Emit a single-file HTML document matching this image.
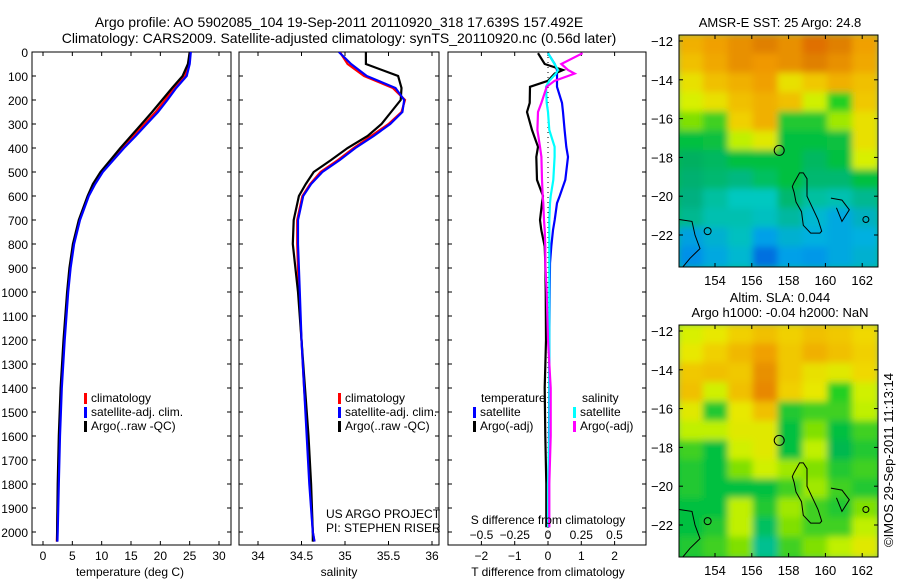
<!DOCTYPE html>
<html><head><meta charset="utf-8"><style>
body{margin:0;background:#fff;}
svg text{font-family:"Liberation Sans",sans-serif;font-size:12px;fill:#000;}
</style></head><body>
<svg id="fig" width="900" height="580" viewBox="0 0 900 580" xmlns="http://www.w3.org/2000/svg">
<defs>
<filter id="blur" x="-5%" y="-5%" width="110%" height="110%"><feGaussianBlur stdDeviation="3.5"/></filter>
<clipPath id="c1"><rect x="679" y="35" width="199" height="232"/></clipPath>
<clipPath id="c2"><rect x="679" y="325" width="199" height="232"/></clipPath>
<clipPath id="p1"><rect x="32" y="52" width="199" height="493"/></clipPath>
<clipPath id="p2"><rect x="239" y="52" width="200" height="493"/></clipPath>
<clipPath id="p3"><rect x="448" y="52" width="198" height="493"/></clipPath>
</defs>
<text x="339" y="27" text-anchor="middle" style="font-size:14px">Argo profile: AO 5902085_104 19-Sep-2011 20110920_318 17.639S 157.492E</text>
<text x="339" y="43" text-anchor="middle" style="font-size:14px">Climatology: CARS2009. Satellite-adjusted climatology: synTS_20110920.nc (0.56d later)</text>
<g id="g1"></g>
<g id="g2"></g>
<g id="g3"></g>
<g id="m1"></g>
<g id="m2"></g>
<text transform="translate(893,460) rotate(-90)" text-anchor="middle" style="font-size:13px">©IMOS 29-Sep-2011 11:13:14</text>
</svg>
<script>
const depth=[0,50,100,150,200,250,300,350,400,450,500,550,600,700,800,900,1000,1200,1400,1600,1800,2000,2040];
const tempClim=[25.0,24.8,24.2,22.3,20.8,19.2,17.3,15.4,13.4,11.7,10.0,8.7,7.7,6.2,5.2,4.6,4.2,3.6,3.1,2.8,2.6,2.4,2.35];
const tempSat=[25.2,25.0,24.5,22.7,21.2,19.6,17.7,15.8,13.8,12.0,10.2,8.9,7.8,6.3,5.3,4.7,4.3,3.7,3.2,2.9,2.7,2.5,2.45];
const tempArgo=[25.0,24.7,23.8,22.0,20.3,18.6,16.8,15.0,13.2,11.5,9.8,8.5,7.6,6.1,5.1,4.5,4.1,3.5,3.0,2.7,2.5,2.4,2.4];
const salClim=[34.94,35.03,35.22,35.55,35.69,35.65,35.5,35.3,35.1,34.92,34.72,34.6,34.51,34.45,34.45,34.46,34.47,34.5,34.53,34.57,34.6,34.63,34.65];
const salSat=[34.93,35.07,35.25,35.58,35.68,35.66,35.52,35.33,35.12,34.94,34.74,34.61,34.52,34.46,34.46,34.47,34.48,34.5,34.53,34.56,34.59,34.63,34.65];
const salArgo=[35.24,35.24,35.61,35.65,35.64,35.53,35.42,35.26,35.03,34.84,34.64,34.55,34.47,34.41,34.4,34.43,34.46,34.5,34.54,34.58,34.61,34.63,34.63];
const diffDepth=[5,50,75,90,120,145,212,250,325,395,437,533,600,630,700,742,810,880,1000,1200,1400,1600,1800,1980];
const dTSat=[0,0.2,0.27,0.27,0.27,0.27,0.42,0.45,0.5,0.55,0.6,0.52,0.35,0.27,0.2,0.15,0.1,0.06,0.05,0.04,0.04,0.03,0.03,0.03];
const dTArgo=[-0.3,-0.1,0.45,0.2,0,-0.54,-0.55,-0.63,-0.48,-0.3,-0.35,-0.33,-0.15,-0.18,-0.24,-0.2,-0.1,-0.08,-0.07,-0.06,-0.1,-0.08,-0.05,-0.05];
const dSSat=[0,0.05,0.075,0.06,0.01,-0.015,-0.01,0,0.01,0.05,0.05,0.04,0.02,0.015,0.01,0.01,0.01,0.01,0.01,0.01,0.01,0.01,0.0,0.0];
const dSArgo=[0.26,0.1,0.15,0.2,0.05,-0.01,-0.05,-0.075,-0.08,-0.06,-0.05,-0.045,-0.04,-0.035,-0.03,-0.025,-0.02,-0.02,-0.01,0,0.02,0.02,0.01,0.01];
const depthTicks=[0,100,200,300,400,500,600,700,800,900,1000,1100,1200,1300,1400,1500,1600,1700,1800,1900,2000];
const tempTicks=[0,5,10,15,20,25,30];
const salTicks=[34,34.5,35,35.5,36];
const tdTicks=[-2,-1,0,1,2];
const sdTicks=[-0.5,-0.25,0,0.25,0.5];
const latTicks=[-12,-14,-16,-18,-20,-22];
const lonTicks=[154,156,158,160,162];
const sstGrid=[
["#f0b000","#f0a000","#e89000","#e08000","#e89000","#e07000","#e08000","#f0a000"],
["#f0c000","#f0a800","#e89000","#f09800","#e89000","#e08000","#e89000","#f0a800"],
["#e8e000","#f0c000","#f0b000","#f0a000","#e8e000","#f0c800","#f0b000","#f0c000"],
["#d8f000","#e8e000","#f0c000","#f0b000","#f0c000","#d0f000","#20d020","#f0c800"],
["#80e000","#40d020","#f0d000","#f0b000","#20c830","#20c830","#a0e800","#e8e000"],
["#00c040","#10c040","#c0f000","#e0e800","#00c040","#00c040","#10c040","#e8e000"],
["#00b060","#00b860","#00c040","#00c040","#00c040","#00b860","#00c040","#d8f000"],
["#00b070","#00b870","#00b880","#00c060","#00c040","#00b870","#00b870","#00c040"],
["#00b080","#00c0a0","#00c8c0","#00c8c0","#00b870","#00c0a0","#00c0b0","#00b890"],
["#00b890","#00c0b0","#00c0b0","#00c0c0","#00b8a0","#00b8d0","#00a8e0","#00b0c0"],
["#00a0e0","#00b0d0","#00c0c0","#00a0e8","#00b0d0","#00b0e0","#00a8e0","#00b0e0"],
["#0090e8","#00a8e0","#00b8d0","#0070e0","#00a0e8","#0098e8","#00a8e0","#00b0d0"]];
const slaGrid=[
["#d8f000","#e8e800","#f0d000","#f0c000","#f0d000","#f0c000","#f0c800","#f0d800"],
["#e8e800","#f0d000","#f0b800","#f0a000","#f0c800","#f0b000","#f0c000","#f0d000"],
["#f0c800","#f0c000","#f0c800","#e89000","#f0c800","#e8e000","#e0e800","#f0d800"],
["#f0c000","#d0f000","#f0c000","#e88800","#f0d000","#e8e800","#20d020","#d0f000"],
["#e0e800","#20c830","#e8e800","#f0c000","#20c830","#40d020","#40d020","#c0f000"],
["#c0f000","#c0f000","#e0e800","#e0e800","#00c040","#80e000","#00c040","#40d020"],
["#40d020","#00c040","#d0f000","#e0e800","#00c040","#c0f000","#00b850","#20c830"],
["#20c830","#00c040","#80e000","#d0f000","#a0e800","#80e000","#20c830","#40d020"],
["#20c830","#00c040","#00c040","#00c040","#40d020","#a0e800","#40d020","#20c830"],
["#00c040","#00c040","#c0f000","#20c830","#a0e800","#40d020","#20c830","#80e000"],
["#00c040","#20c830","#c0f000","#00c060","#80e000","#40d020","#40d020","#c0f000"],
["#20c830","#40d020","#80e000","#00c090","#40d020","#80e000","#c0f000","#e0e800"]];
const islandLon=[158.3,158.6,158.8,159.0,159.0,159.3,159.6,159.8,159.7,159.2,158.8,158.7,158.4,158.3,158.2,158.3];
const islandLat=[-19.3,-18.8,-18.8,-19.1,-20.0,-20.6,-21.2,-21.8,-21.9,-21.9,-21.5,-20.8,-20.3,-19.8,-19.5,-19.3];

const NS="http://www.w3.org/2000/svg";
function mk(tag,attrs,parent){const e=document.createElementNS(NS,tag);for(const k in attrs)e.setAttribute(k,attrs[k]);parent.appendChild(e);return e;}
const yD=d=>52+d*0.24;

function frame(g,x0,x1){
  const r=mk('rect',{x:x0,y:52,width:x1-x0,height:493,fill:'none',stroke:'#000','stroke-width':1},g);
  
  
  depthTicks.forEach(d=>{
    mk('line',{x1:x0,x2:x0+4,y1:yD(d),y2:yD(d),stroke:'#000'},g);
    mk('line',{x1:x1-4,x2:x1,y1:yD(d),y2:yD(d),stroke:'#000'},g);
  });
}
function series(g,xs,ys,sx,color,clip,name){
  const pts=xs.map((v,i)=>sx(v).toFixed(1)+','+yD(ys[i]).toFixed(1)).join(' ');
  const p=mk('polyline',{points:pts,fill:'none',stroke:color,'stroke-width':2.2,'clip-path':'url(#'+clip+')'},g);
  
  
}
function xticks(g,ticks,sx,y,lbl,top){
  ticks.forEach(t=>{
    mk('line',{x1:sx(t),x2:sx(t),y1:545,y2:541,stroke:'#000'},g);
    if(top) mk('line',{x1:sx(t),x2:sx(t),y1:52,y2:56,stroke:'#000'},g);
    const tx=mk('text',{x:sx(t),y:y,'text-anchor':'middle'},g);tx.textContent=(t<0?'\u2212'+(-t):t);
    
    
  });
}
function legend(g,x,y,items){
  items.forEach((it,i)=>{
    mk('rect',{x:x,y:y+i*14-9,width:3,height:11,fill:it[1]},g);
    const t=mk('text',{x:x+7,y:y+i*14},g);t.textContent=it[0];
    
    
  });
}
// Panel 1
const g1=document.getElementById('g1');
const sT=v=>43+v*5.867;
frame(g1,32,231);
depthTicks.forEach(d=>{const t=mk('text',{x:28,y:yD(d)+5,'text-anchor':'end'},g1);t.textContent=d;
  
  });
xticks(g1,tempTicks,sT,560,true,true);
series(g1,tempClim,depth,sT,'#ff0000','p1','temp-climatology-line');
series(g1,tempArgo,depth,sT,'#000000','p1','temp-argo-line');
series(g1,tempSat,depth,sT,'#0000ff','p1','temp-satellite-line');
legend(g1,84,402,[['climatology','#f00'],['satellite-adj. clim.','#00f'],['Argo(..raw -QC)','#000']]);
let t=mk('text',{x:130,y:576,'text-anchor':'middle'},g1);t.textContent='temperature (deg C)';


// Panel 2
const g2=document.getElementById('g2');
const sS=v=>258+(v-34)*87;
frame(g2,239,439);
xticks(g2,salTicks,sS,560,true,true);
series(g2,salClim,depth,sS,'#ff0000','p2','sal-climatology-line');
series(g2,salArgo,depth,sS,'#000000','p2','sal-argo-line');
series(g2,salSat,depth,sS,'#0000ff','p2','sal-satellite-line');
legend(g2,338,402,[['climatology','#f00'],['satellite-adj. clim.','#00f'],['Argo(..raw -QC)','#000']]);
t=mk('text',{x:326,y:518},g2);t.textContent='US ARGO PROJECT';


t=mk('text',{x:326,y:532},g2);t.textContent='PI: STEPHEN RISER';


t=mk('text',{x:339,y:576,'text-anchor':'middle'},g2);t.textContent='salinity';


// Panel 3
const g3=document.getElementById('g3');
const sDT=v=>548+v*33.3;
const sDS=v=>548+v*133;
frame(g3,448,646);
mk('line',{x1:548,x2:548,y1:52,y2:545,stroke:'#000','stroke-dasharray':'1,4'},g3);
xticks(g3,tdTicks,sDT,560,true,true);
sdTicks.forEach(v=>{const tx=mk('text',{x:sDS(v),y:539,'text-anchor':'middle'},g3);tx.textContent=(v<0?'\u2212'+(-v):v);
  
  });
series(g3,dTSat,diffDepth,sDT,'#0000ff','p3','dT-satellite-line');
series(g3,dTArgo,diffDepth,sDT,'#000000','p3','dT-argo-line');
series(g3,dSSat,diffDepth,sDS,'#00ffff','p3','dS-satellite-line');
series(g3,dSArgo,diffDepth,sDS,'#ff00ff','p3','dS-argo-line');
t=mk('text',{x:481,y:402},g3);t.textContent='temperature';


t=mk('text',{x:582,y:402},g3);t.textContent='salinity';


legend(g3,473,416,[['satellite','#00f'],['Argo(-adj)','#000']]);
legend(g3,573,416,[['satellite','#0ff'],['Argo(-adj)','#f0f']]);
t=mk('text',{x:548,y:524,'text-anchor':'middle'},g3);t.textContent='S difference from climatology';


t=mk('text',{x:548,y:576,'text-anchor':'middle'},g3);t.textContent='T difference from climatology';


// Maps
function map(id,y0,grid,clip,titles,titleY){
  const g=document.getElementById(id);
  const lx=v=>715+(v-154)*18.4;
  const ly=v=>y0+6+(-12-v)*19.4;
  const cw=199/8, ch=232/12;
  const gg=mk('g',{'clip-path':'url(#'+clip+')'},g);
  const inner=mk('g',{filter:'url(#blur)'},gg);
  mk('rect',{x:669,y:y0-10,width:220,height:252,fill:grid[6][4]},inner);
  grid.forEach((row,r)=>row.forEach((c,k)=>{
    mk('rect',{x:679+k*cw-1,y:y0+r*ch-1,width:cw+2,height:ch+2,fill:c},inner);
  }));
  const pts=islandLon.map((v,i)=>lx(v).toFixed(1)+','+ly(islandLat[i]).toFixed(1)).join(' ');
  const isl=mk('polygon',{points:pts,fill:'none',stroke:'#000','stroke-width':1},gg);
  
  
  mk('polyline',{points:`679,${ly(-21.2)} 692,${ly(-21.3)} 695,${ly(-22)} 700,${ly(-22.7)} 690,${ly(-23.2)} 682,${ly(-23.7)}`,fill:'none',stroke:'#000'},gg);
  mk('polyline',{points:`${lx(160.3)},${ly(-20.1)} ${lx(160.9)},${ly(-20.2)} ${lx(161.3)},${ly(-20.7)} ${lx(160.9)},${ly(-21.3)} ${lx(160.6)},${ly(-20.6)}`,fill:'none',stroke:'#000'},gg);
  mk('circle',{cx:lx(162.2),cy:ly(-21.2),r:3,fill:'none',stroke:'#000'},gg);
  mk('circle',{cx:lx(153.6),cy:ly(-21.8),r:3.5,fill:'none',stroke:'#000'},gg);
  const pc=mk('circle',{cx:lx(157.49),cy:ly(-17.64),r:5,fill:'none',stroke:'#000'},g);
  
  
  mk('rect',{x:679,y:y0,width:199,height:232,fill:'none',stroke:'#000'},g);
  latTicks.forEach(v=>{mk('line',{x1:679,x2:683,y1:ly(v),y2:ly(v),stroke:'#000'},g);
    mk('line',{x1:874,x2:878,y1:ly(v),y2:ly(v),stroke:'#000'},g);
    const tx=mk('text',{x:673,y:ly(v)+5,'text-anchor':'end','style':'font-size:13px'},g);tx.textContent='\u2212'+(-v);
    
    });
  lonTicks.forEach(v=>{mk('line',{x1:lx(v),x2:lx(v),y1:y0+232,y2:y0+228,stroke:'#000'},g);
    mk('line',{x1:lx(v),x2:lx(v),y1:y0,y2:y0+4,stroke:'#000'},g);
    const tx=mk('text',{x:lx(v),y:y0+250,'text-anchor':'middle','style':'font-size:13px'},g);tx.textContent=v;
    
    });
  titles.forEach((s,i)=>{const tx=mk('text',{x:780,y:titleY+i*15,'text-anchor':'middle','style':'font-size:13px'},g);tx.textContent=s;
    
    });
}
map('m1',35,sstGrid,'c1',['AMSR-E SST: 25 Argo: 24.8'],27);
map('m2',325,slaGrid,'c2',['Altim. SLA: 0.044','Argo h1000: -0.04 h2000: NaN'],302);
</script>
</body></html>
